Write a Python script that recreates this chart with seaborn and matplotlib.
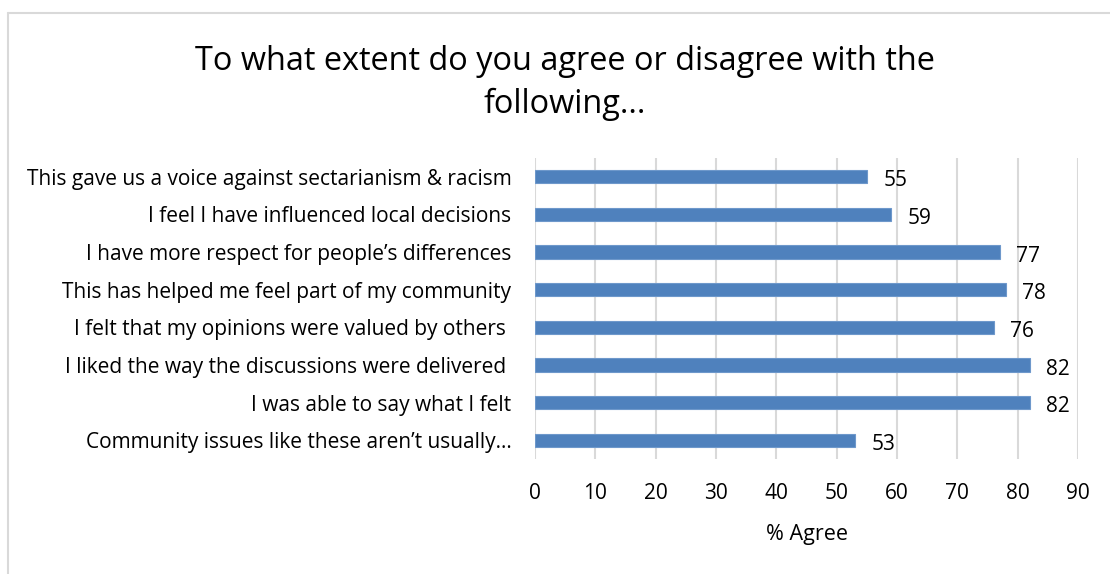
import matplotlib
matplotlib.use("Agg")
import matplotlib.pyplot as plt
from matplotlib.lines import Line2D
import pandas as pd
import seaborn as sns

statements = [
    "This gave us a voice against sectarianism & racism",
    "I feel I have influenced local decisions",
    "I have more respect for people\u2019s differences",
    "This has helped me feel part of my community",
    "I felt that my opinions were valued by others ",
    "I liked the way the discussions were delivered ",
    "I was able to say what I felt",
    "Community issues like these aren\u2019t usually\u2026",
]
agree_pct = [55, 59, 77, 78, 76, 82, 82, 53]
x_ticks = [0, 10, 20, 30, 40, 50, 60, 70, 80, 90]

df = pd.DataFrame({"statement": statements, "agree": agree_pct})

sns.set_theme(style="white")
plt.rcParams["font.family"] = ["Open Sans", "DejaVu Sans"]
plt.rcParams["text.color"] = "black"

W, H = 1110, 574
fig = plt.figure(figsize=(W / 100, H / 100), dpi=100)
ax = fig.add_axes([535 / W, 1 - 459 / H, (1078 - 535) / W, (459 - 158) / H])

sns.barplot(data=df, x="agree", y="statement", orient="h", order=statements,
            color="#4F81BD", saturation=1, width=0.35,
            edgecolor="#6E98CB", linewidth=0.8, ax=ax, zorder=3)

ax.set_xlim(0, 90)
ax.set_xticks(x_ticks)
ax.grid(axis="x", color="#D9D9D9", linewidth=1.5, zorder=0)
ax.grid(axis="y", visible=False)
for s in ax.spines.values():
    s.set_visible(False)
ax.tick_params(axis="both", length=0, labelsize=15, colors="black")
ax.tick_params(axis="y", pad=17)
ax.tick_params(axis="x", pad=17)
ax.set_ylabel("")
ax.set_xlabel("% Agree", fontsize=15.5, labelpad=15, color="black")

# value labels just past the end of each bar
for patch, val in zip(ax.patches, agree_pct):
    y_mid = patch.get_y() + patch.get_height() / 2
    ax.annotate(str(val), xy=(patch.get_width(), y_mid), xytext=(12, -3),
                textcoords="offset points", ha="left", va="center",
                fontsize=15, color="black")

fig.text(565 / W, 1 - 83 / H, "To what extent do you agree or disagree with the\nfollowing...",
         ha="center", va="center", fontsize=23.4, linespacing=1.38, color="black")

# chart-area frame (top and left edges)
fig.add_artist(Line2D([8 / W, 1.0], [1 - 13 / H, 1 - 13 / H], color="#D9D9D9",
                      linewidth=1.5, transform=fig.transFigure))
fig.add_artist(Line2D([8 / W, 8 / W], [0, 1 - 13 / H], color="#D9D9D9",
                      linewidth=1.5, transform=fig.transFigure))

fig.savefig("out.png", dpi=100)
